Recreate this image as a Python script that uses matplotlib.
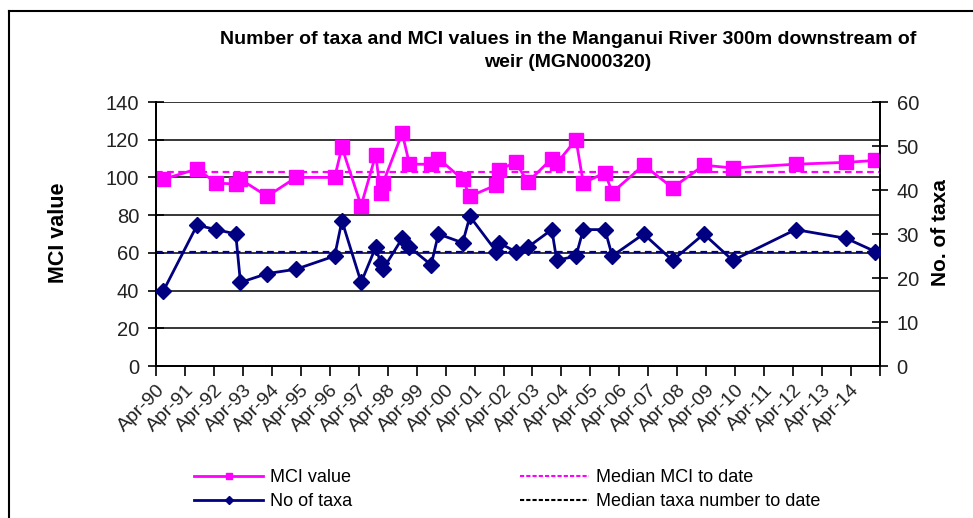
import matplotlib
matplotlib.use('Agg')
import matplotlib.pyplot as plt
from matplotlib.lines import Line2D
import pandas as pd

plt.rcParams['font.family'] = 'Liberation Sans'

# --- data ---
sample_dates = ['1990-07', '1991-09', '1992-05', '1993-01', '1993-03', '1994-02',
                '1995-02', '1996-06', '1996-09', '1997-05', '1997-11', '1998-01',
                '1998-02', '1998-10', '1999-01', '1999-10', '2000-01', '2000-11',
                '2001-02', '2002-01', '2002-02', '2002-09', '2003-02', '2003-12',
                '2004-02', '2004-10', '2005-01', '2005-10', '2006-01', '2007-02',
                '2008-02', '2009-03', '2010-03', '2012-05', '2014-02', '2015-02']
mci_values = [99, 104.5, 97, 96.5, 99, 90,
              100, 100, 116, 85, 112, 92,
              97, 123.5, 107, 107, 110, 99,
              90, 96, 104, 108, 97.5, 110,
              107.5, 120, 97, 102.5, 92, 106.5,
              94.5, 106.5, 105, 107, 108, 109]
taxa_values = [17, 32, 31, 30, 19, 21,
               22, 25, 33, 19, 27, 23.5,
               22, 29, 27, 23, 30, 28,
               34, 26, 28, 26, 27, 31,
               24, 25, 31, 31, 25, 30,
               24, 30, 24, 31, 29, 26]
median_mci = 103
median_taxa = 26
tick_years = list(range(1990, 2016))

dates = pd.to_datetime(sample_dates)
x0, x1 = pd.Timestamp('1990-04-01'), pd.Timestamp('2015-04-01')

PINK = '#FF00FF'
NAVY = '#000080'

fig = plt.figure(figsize=(9.73, 5.18), dpi=100)
ax = fig.add_axes([156/973, 1-366/518, 724/973, 264/518])
ax2 = ax.twinx()

ax.set_ylim(0, 140)
ax.set_yticks(range(0, 141, 20))
ax2.set_ylim(0, 60)
ax2.set_yticks(range(0, 61, 10))
ax.set_xlim(x0, x1)

for v in range(20, 141, 20):
    ax.axhline(v, color='black', lw=1.1, zorder=1)

ax.plot([x0, x1], [median_mci]*2, ls=(0, (3, 2)), color=PINK, lw=1.6, zorder=2)
ax2.plot([x0, x1], [median_taxa]*2, ls=(0, (3, 2)), color=NAVY, lw=1.6, zorder=2)
ax.plot(dates, mci_values, color=PINK, lw=2, marker='s', ms=10, zorder=3)
ax2.plot(dates, taxa_values, color=NAVY, lw=2, marker='D', ms=8, zorder=3)

ticks = [pd.Timestamp(f'{y}-04-01') for y in tick_years]
ax.set_xticks(ticks)
ax.set_xticklabels([t.strftime('%b-%y') for t in ticks[:-1]] + [''],
                   rotation=45, ha='right', rotation_mode='anchor', fontsize=14, color='#222')
ax.tick_params(axis='x', direction='out', length=7, width=1.2, pad=4)
ax.tick_params(axis='y', direction='inout', length=12, width=1.2, labelsize=14.5,
               labelcolor='#222', pad=6)
ax2.tick_params(axis='y', direction='inout', length=12, width=1.2, labelsize=14.5,
                labelcolor='#222', pad=6)

for a in (ax, ax2):
    a.spines['top'].set_visible(False)
    for s in ('left', 'right', 'bottom'):
        a.spines[s].set_linewidth(1.3)

fig.text(568/973, 1-51/518, 'Number of taxa and MCI values in the Manganui River 300m downstream of\nweir (MGN000320)',
         ha='center', va='center', fontsize=14, fontweight='bold', linespacing=1.4)
fig.text(58/973, 1-233/518, 'MCI value', rotation=90, ha='center', va='center',
         fontsize=15.5, fontweight='bold')
fig.text(940/973, 1-233/518, 'No. of taxa', rotation=90, ha='center', va='center',
         fontsize=15, fontweight='bold')

handles = [Line2D([], [], color=PINK, lw=2, marker='s', ms=5),
           Line2D([], [], color=NAVY, lw=2, marker='D', ms=4),
           Line2D([], [], color=PINK, lw=1.5, ls=(0, (2, 1))),
           Line2D([], [], color='black', lw=1.5, ls=(0, (2, 1)))]
labels = ['MCI value', 'No of taxa', 'Median MCI to date', 'Median taxa number to date']
fig.legend(handles, labels, ncol=2, loc='upper left', bbox_to_anchor=(178/973, 1-453/518),
           frameon=False, handlelength=3.8, columnspacing=9.3,
           labelspacing=0.4, handletextpad=0.4, prop={'size': 13})

# outer chart border (top and left visible in the crop)
fig.add_artist(Line2D([9/973, 1], [1-11/518, 1-11/518], color='black', lw=1.5))
fig.add_artist(Line2D([9/973, 9/973], [0, 1-11/518], color='black', lw=1.5))

fig.savefig('out.png', dpi=100)
